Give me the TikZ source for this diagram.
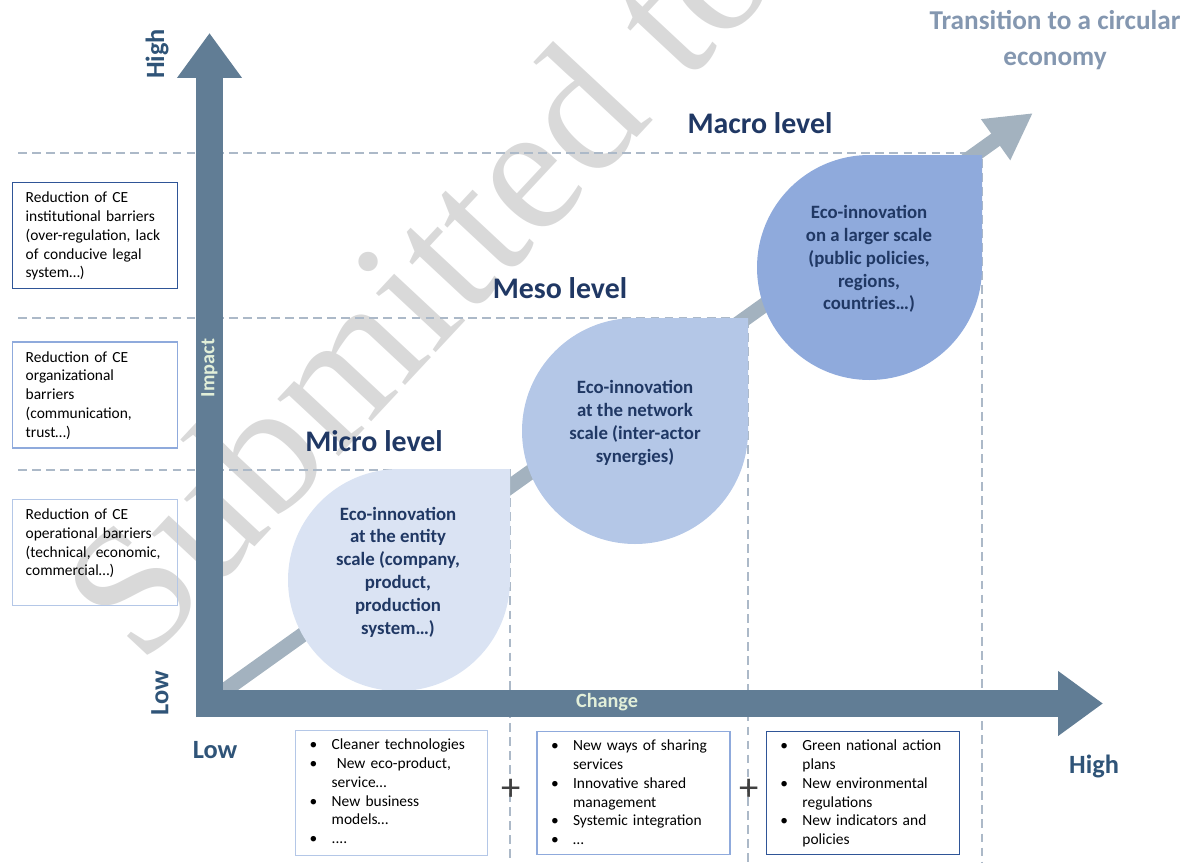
\documentclass[tikz,border=0pt]{standalone}
\usepackage{fontspec}
\setmainfont{Carlito}
\newfontfamily\stampfont{Liberation Serif}
\usetikzlibrary{arrows.meta}
\usetikzlibrary{positioning}

\definecolor{axisblue}{RGB}{97,125,149}
\definecolor{trendgray}{RGB}{163,178,191}
\definecolor{guidegray}{RGB}{172,185,200}
\definecolor{microfill}{RGB}{218,227,243}
\definecolor{mesofill}{RGB}{180,199,231}
\definecolor{macrofill}{RGB}{143,170,220}
\definecolor{navy}{RGB}{32,56,100}
\definecolor{darkblue}{RGB}{47,85,151}
\definecolor{labelblue}{RGB}{47,84,120}
\definecolor{paleaxis}{RGB}{226,239,217}
\definecolor{titlegray}{RGB}{132,151,176}
\definecolor{stampgray}{RGB}{217,217,217}
\definecolor{plusgray}{RGB}{64,64,64}

\begin{document}
\begin{tikzpicture}[
    x=0.02cm, y=-0.02cm,
    node distance=1.04cm,
    barrier/.style={
        rectangle,
        draw,
        line width=0.8pt,
        anchor=north west,
        inner xsep=0.26cm,
        inner ysep=0.1cm,
        text width=2.78cm,
        text height=0.3cm,
        text depth=1.62cm,
        align=left,
        font=\fontsize{8.8}{10.7}\selectfont
    },
    action/.style={
        rectangle,
        draw,
        line width=0.8pt,
        anchor=north west,
        inner xsep=0.28cm,
        inner ysep=0.1cm,
        text width=3.3cm,
        text height=0.28cm,
        text depth=2.02cm,
        align=left,
        font=\fontsize{8.8}{10.7}\selectfont
    },
    droptext/.style={align=center, text=navy, font=\bfseries\fontsize{10.7}{13}\selectfont},
    level/.style={text=navy, font=\bfseries\fontsize{17}{20}\selectfont},
    axislabel/.style={text=labelblue, font=\bfseries\fontsize{15}{18}\selectfont},
    axisname/.style={text=paleaxis, font=\bfseries\fontsize{11.5}{14}\selectfont},
    guide/.style={guidegray, line width=1.1pt, dash pattern=on 5pt off 3pt},
    axis/.style={axisblue, line width=15.3pt, -{Triangle[length=0.9cm, width=1.24cm]}},
    trend/.style={trendgray, line width=8.5pt, -{Triangle[length=0.92cm, width=0.94cm]}}
]
    \useasboundingbox (0,0) rectangle (1189,862);
    \clip (0,0) rectangle (1189,862);

    % watermark
    \node[text=stampgray, font=\stampfont\fontsize{104}{104}\selectfont,
          rotate=47, anchor=base west, inner sep=0pt] (stampmark) at (142,668) {Submitted to};

    % dashed guides of the three levels
    \foreach \y/\x in {153/982, 318/748, 470/510}
        \draw[guide] (18,\y) -- (\x,\y) -- (\x,862);

    % trend towards the circular economy
    \coordinate (trendstart) at (214,698);
    \coordinate (trendend) at (1033,113);
    \draw[trend] (trendstart) -- (trendend);

    % drops
    \foreach \cx/\cy/\r/\col in {399/580/111/microfill, 635/431/113/mesofill, 869.5/267.5/112.5/macrofill}
        \fill[\col] (\cx+\r,\cy-\r) -- (\cx+\r,\cy) arc[start angle=0, end angle=270, radius=\r] -- cycle;

    \node[droptext] (microtext) at (398,572) {Eco-innovation\\at the entity\\scale (company,\\product,\\production\\system…)};
    \node[droptext] (mesotext) at (635,423) {Eco-innovation\\at the network\\scale (inter-actor\\synergies)};
    \node[droptext] (macrotext) at (869,259) {Eco-innovation\\on a larger scale\\(public policies,\\regions,\\countries…)};

    % axes
    \coordinate (ybottom) at (209.5,717);
    \coordinate (ytop) at (209.5,33);
    \coordinate (xleft) at (196,703.5);
    \coordinate (xright) at (1103,703.5);
    \draw[axis] (ybottom) -- (ytop);
    \draw[axis] (xleft) -- (xright);

    \node[axisname, rotate=90] (impact) at (209.5,368) {Impact};
    \node[axisname] (change) at (607,702) {Change};

    \node[axislabel, rotate=90] (yhigh) at (157,54) {High};
    \node[axislabel, rotate=90] (ylow) at (160,693) {Low};
    \node[axislabel] (xlow) at (215,750) {Low};
    \node[axislabel] (xhigh) at (1094,766) {High};

    % levels
    \node[level] (microlabel) at (374,441) {Micro level};
    \node[level] (mesolabel) at (560,288) {Meso level};
    \node[level] (macrolabel) at (760,123) {Macro level};

    \node[align=center, text=titlegray, font=\bfseries\fontsize{15.5}{20}\selectfont] (title) at (1055,40) {Transition to a circular\\economy};

    % barriers on the left
    \node[barrier, darkblue, text=black] (institutional) at (12,182) {Reduction of CE\\institutional barriers\\(over-regulation, lack\\of conducive legal\\system…)};
    \node[barrier, macrofill, text=black, below=of institutional] (organizational) {Reduction of CE\\organizational\\barriers\\(communication,\\trust…)};
    \node[barrier, mesofill, text=black, below=1cm of organizational] (operational) {Reduction of CE\\operational barriers\\(technical, economic,\\commercial…)};

    % eco-innovation actions below
    \node[action, mesofill, text=black, text width=3.28cm] (entityact) at (295,730) {%
        \begin{tabular}[t]{@{}p{0.44cm}@{}l@{}}
        \textbullet & Cleaner technologies\\
        \textbullet & \ New eco-product,\\
                    & service…\\
        \textbullet & New business\\
                    & models…\\
        \textbullet & ....
        \end{tabular}};
    \node[action, macrofill, text=black, text depth=1.98cm, right=0.96cm of entityact] (networkact) {%
        \begin{tabular}[t]{@{}p{0.44cm}@{}l@{}}
        \textbullet & New ways of sharing\\
                    & services\\
        \textbullet & Innovative shared\\
                    & management\\
        \textbullet & Systemic integration\\
        \textbullet & …
        \end{tabular}};
    \node[action, darkblue, text=black, text depth=1.98cm, right=0.7cm of networkact] (largeract) {%
        \begin{tabular}[t]{@{}p{0.44cm}@{}l@{}}
        \textbullet & Green national action\\
                    & plans\\
        \textbullet & New environmental\\
                    & regulations\\
        \textbullet & New indicators and\\
                    & policies
        \end{tabular}};

    \node[text=plusgray, font=\fontsize{22}{22}\selectfont] (plusone) at (511,790) {+};
    \node[text=plusgray, font=\fontsize{22}{22}\selectfont] (plustwo) at (749,790) {+};
\end{tikzpicture}
\end{document}
